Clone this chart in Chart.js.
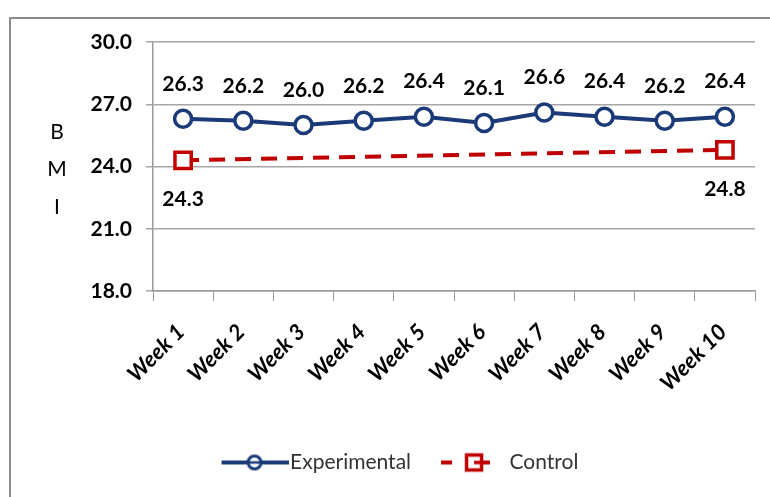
<!DOCTYPE html>
<html>
<head>
<meta charset="utf-8">
<script src="https://cdn.jsdelivr.net/npm/chart.js@4.4.0/dist/chart.umd.min.js"></script>
<style>
  html, body { margin: 0; padding: 0; background: #fff; }
  #wrap { position: relative; width: 770px; height: 497px; }
</style>
</head>
<body>
<div id="wrap"><canvas id="bmiChart" width="770" height="497"></canvas></div>
<script>
// data
const weeks = ['Week 1', 'Week 2', 'Week 3', 'Week 4', 'Week 5', 'Week 6', 'Week 7', 'Week 8', 'Week 9', 'Week 10'];
const experimental = [26.3, 26.2, 26.0, 26.2, 26.4, 26.1, 26.6, 26.4, 26.2, 26.4];
const control = [24.3, null, null, null, null, null, null, null, null, 24.8];
const yTicks = [18, 21, 24, 27, 30];

const NAVY = '#1b3a78';
const RED = '#c00000';
const FONT = 'Lato, "Open Sans", sans-serif';

// legend symbol: line + marker, drawn on a small canvas
// (image is centred on the legend box, so it is padded on the left)
function legendSymbol(kind) {
    const c = document.createElement('canvas');
    c.width = 76; c.height = 22;
    const g = c.getContext('2d');
    const cx = 42, cy = 11;
    g.lineWidth = 4;
    if (kind === 'circle') {
        g.strokeStyle = NAVY;
        g.beginPath(); g.moveTo(9, cy); g.lineTo(76, cy); g.stroke();
        g.fillStyle = '#fff';
        g.lineWidth = 3;
        g.beginPath(); g.arc(cx, cy, 6.5, 0, Math.PI * 2); g.fill(); g.stroke();
        g.lineWidth = 2.5;
        g.beginPath(); g.moveTo(cx - 6, cy); g.lineTo(cx + 6, cy); g.stroke();
    } else {
        g.strokeStyle = RED;
        g.beginPath(); g.moveTo(9, cy); g.lineTo(20, cy); g.stroke();
        g.beginPath(); g.moveTo(cx + 8, cy); g.lineTo(cx + 16, cy); g.stroke();
        g.fillStyle = '#fff';
        g.fillRect(cx - 9, cy - 9, 18, 18);
        g.lineWidth = 3.5;
        g.strokeRect(cx - 7.5, cy - 7.5, 15, 15);
        g.beginPath(); g.moveTo(cx, cy); g.lineTo(cx + 8, cy); g.stroke();
    }
    return c;
}

// outer frame, BMI letters and value labels
const extras = {
    id: 'extras',
    beforeDraw(chart) {
        const ctx = chart.ctx;
        ctx.save();
        ctx.strokeStyle = '#8c8c8c';
        ctx.lineWidth = 2;
        ctx.strokeRect(10, 18, 800, 520);
        ctx.restore();
    },
    afterDatasetsDraw(chart) {
        const ctx = chart.ctx;
        ctx.save();
        ctx.fillStyle = '#000';
        ctx.textAlign = 'center';
        ctx.textBaseline = 'middle';
        ctx.font = '21px ' + FONT;
        ['B', 'M', 'I'].forEach((ch, i) => ctx.fillText(ch, 57, 132 + i * 37.5));

        ctx.font = 'bold 21px ' + FONT;
        chart.data.datasets.forEach((ds, di) => {
            const meta = chart.getDatasetMeta(di);
            meta.data.forEach((pt, i) => {
                const v = ds.data[i];
                if (v === null) return;
                const dy = di === 0 ? -35 : 39;
                ctx.fillText(v.toFixed(1), pt.x, pt.y + dy);
            });
        });
        ctx.restore();
    }
};

new Chart(document.getElementById('bmiChart'), {
    type: 'line',
    data: {
        labels: weeks,
        datasets: [{
            label: 'Experimental',
            data: experimental,
            borderColor: NAVY,
            borderWidth: 4,
            pointStyle: 'circle',
            pointRadius: 8.5,
            pointBorderWidth: 3.5,
            pointBackgroundColor: '#fff',
            pointBorderColor: NAVY,
            tension: 0
        }, {
            label: 'Control',
            data: control,
            spanGaps: true,
            borderColor: RED,
            borderWidth: 4,
            borderDash: [16, 10],
            pointStyle: 'rect',
            pointRadius: 11.5,
            pointBorderWidth: 3.5,
            pointBackgroundColor: '#fff',
            pointBorderColor: RED,
            tension: 0
        }]
    },
    options: {
        responsive: false,
        animation: false,
        layout: { padding: { left: 40, right: 10, top: 42, bottom: 14 } },
        plugins: {
            tooltip: { enabled: false },
            legend: {
                position: 'bottom',
                labels: {
                    usePointStyle: true,
                    pointStyleWidth: 58,
                    boxHeight: 21,
                    color: '#333',
                    font: { family: FONT, size: 21 },
                    padding: 30,
                    generateLabels(chart) {
                        return chart.data.datasets.map((ds, i) => ({
                            text: ds.label,
                            pointStyle: legendSymbol(i === 0 ? 'circle' : 'rect'),
                            fontColor: '#333',
                            datasetIndex: i,
                            hidden: false,
                            lineWidth: 0
                        }));
                    }
                }
            }
        },
        scales: {
            x: {
                offset: true,
                grid: { drawOnChartArea: false, drawTicks: true, tickLength: 10, color: '#9a9a9a', offset: true },
                border: { color: '#9a9a9a', width: 1.5 },
                ticks: {
                    color: '#000',
                    font: { family: FONT, size: 22, weight: 'bold', style: 'italic' },
                    minRotation: 45,
                    maxRotation: 45,
                    padding: 18,
                    labelOffset: -2
                },
                afterFit(scale) { scale.height = 131; }
            },
            y: {
                min: yTicks[0],
                max: yTicks[yTicks.length - 1],
                afterBuildTicks(scale) { scale.ticks = yTicks.map(v => ({ value: v })); },
                afterFit(scale) { scale.width = 113; },
                grid: { color: '#a6a6a6', lineWidth: 1.5, tickLength: 7 },
                border: { color: '#9a9a9a', width: 1.5 },
                ticks: {
                    color: '#000',
                    font: { family: FONT, size: 21, weight: 'bold' },
                    padding: 14,
                    callback: v => Number(v).toFixed(1)
                }
            }
        }
    },
    plugins: [extras]
});
</script>
</body>
</html>
